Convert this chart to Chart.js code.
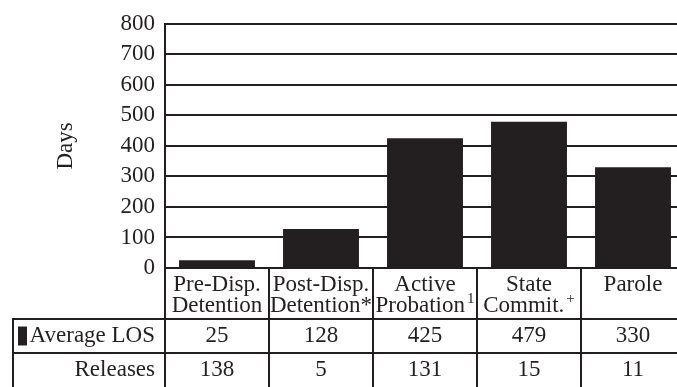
<!DOCTYPE html>
<html>
<head>
<meta charset="utf-8">
<script src="https://cdn.jsdelivr.net/npm/chart.js@4/dist/chart.umd.min.js"></script>
<style>
  html, body { margin: 0; padding: 0; background: #ffffff; overflow: hidden; }
  #wrap { position: relative; width: 685px; height: 387px; }
</style>
</head>
<body>
<div id="wrap"><canvas id="chart" width="685" height="387"></canvas></div>
<script>
// Placement types, split over two header lines, with footnote marks
const categoryLines = [
  ["Pre-Disp.", "Detention"],
  ["Post-Disp.", "Detention*"],
  ["Active", "Probation"],
  ["State", "Commit."],
  ["Parole"]
];
const categoryNotes = ["", "", "1", "+", ""];

// Average length of stay (days) and number of releases per placement
const averageLOS = [25, 128, 425, 479, 330];
const releases = [138, 5, 131, 15, 11];

// Row labels of the data table
const rowLabels = ["Average LOS", "Releases"];

// Value axis
const yTicks = [0, 100, 200, 300, 400, 500, 600, 700, 800];

const INK = "#231f20";
const FAMILY = "'Liberation Serif', 'Times New Roman', serif";
const FONT_SIZE = 23;

// Draws the data table under the plot, aligned to the category scale
const dataTablePlugin = {
  id: "dataTable",
  afterDraw(chart) {
    const ctx = chart.ctx;
    const area = chart.chartArea;
    const xScale = chart.scales.x;
    const n = chart.data.labels.length;
    const catW = (area.right - area.left) / n;
    const bottom = chart.height;
    const tableLeft = 13;
    const headerBottom = area.bottom + 51;
    const rowBottom = headerBottom + 34;

    ctx.save();
    ctx.strokeStyle = INK;
    ctx.fillStyle = INK;
    ctx.lineWidth = 2;

    // grid lines of the table
    ctx.beginPath();
    ctx.moveTo(area.left, area.bottom); ctx.lineTo(area.right, area.bottom);
    ctx.moveTo(tableLeft, headerBottom); ctx.lineTo(area.right, headerBottom);
    ctx.moveTo(tableLeft, rowBottom); ctx.lineTo(area.right, rowBottom);
    ctx.moveTo(tableLeft, headerBottom - 1); ctx.lineTo(tableLeft, bottom);
    ctx.moveTo(area.left, area.bottom); ctx.lineTo(area.left, bottom);
    for (let i = 1; i < n; i++) {
      const bx = area.left + i * catW;
      ctx.moveTo(bx, area.bottom); ctx.lineTo(bx, bottom);
    }
    ctx.stroke();

    const mainFont = FONT_SIZE + "px " + FAMILY;
    const noteFont = "15px " + FAMILY;

    // category headers
    ctx.textBaseline = "alphabetic";
    categoryLines.forEach((lines, i) => {
      const cx = xScale.getPixelForValue(i);
      lines.forEach((line, j) => {
        const baseY = area.bottom + 23 + j * 21;
        const isLast = j === lines.length - 1;
        const note = isLast ? categoryNotes[i] : "";
        ctx.font = mainFont;
        const w = ctx.measureText(line).width;
        ctx.font = noteFont;
        const nw = note ? ctx.measureText(note).width + 2 : 0;
        const startX = cx - (w + nw) / 2;
        ctx.font = mainFont;
        ctx.textAlign = "left";
        ctx.fillText(line, startX, baseY);
        if (note) {
          ctx.font = noteFont;
          ctx.fillText(note, startX + w + 2, baseY - 9);
        }
      });
    });

    // table rows
    const rows = [averageLOS, releases];
    const rowCenters = [(headerBottom + rowBottom) / 2, (rowBottom + bottom) / 2];
    ctx.font = mainFont;
    ctx.textBaseline = "middle";
    rows.forEach((vals, r) => {
      const cy = rowCenters[r];
      ctx.textAlign = "right";
      ctx.fillText(rowLabels[r], area.left - 10, cy);
      ctx.textAlign = "center";
      vals.forEach((v, i) => {
        ctx.fillText(String(v), xScale.getPixelForValue(i), cy);
      });
    });

    // legend key for the bar series
    ctx.fillRect(18, rowCenters[0] - 9.5, 9, 19);
    ctx.restore();
  }
};

new Chart(document.getElementById("chart"), {
  type: "bar",
  data: {
    labels: categoryLines.map(l => l.join(" ")),
    datasets: [{
      label: rowLabels[0],
      data: averageLOS,
      backgroundColor: INK,
      borderWidth: 0,
      barPercentage: 0.73,
      categoryPercentage: 1
    }]
  },
  options: {
    responsive: false,
    animation: false,
    layout: { padding: { top: 19, right: 0, bottom: 0, left: 0 } },
    plugins: {
      legend: { display: false },
      tooltip: { enabled: false }
    },
    scales: {
      x: {
        offset: true,
        grid: { display: false },
        border: { display: false },
        ticks: { display: false },
        afterFit(scale) { scale.height = 119; }
      },
      y: {
        min: yTicks[0],
        max: yTicks[yTicks.length - 1],
        afterBuildTicks(scale) { scale.ticks = yTicks.map(v => ({ value: v })); },
        grid: { color: INK, lineWidth: 2, drawTicks: false },
        border: { color: INK, width: 2 },
        ticks: {
          color: INK,
          padding: 10,
          autoSkip: false,
          font: { family: FAMILY, size: FONT_SIZE }
        },
        title: {
          display: true,
          text: "Days",
          color: INK,
          padding: { top: 52, bottom: 0 },
          font: { family: FAMILY, size: 23 }
        },
        afterFit(scale) { scale.width = 165; }
      }
    }
  },
  plugins: [dataTablePlugin]
});
</script>
</body>
</html>
